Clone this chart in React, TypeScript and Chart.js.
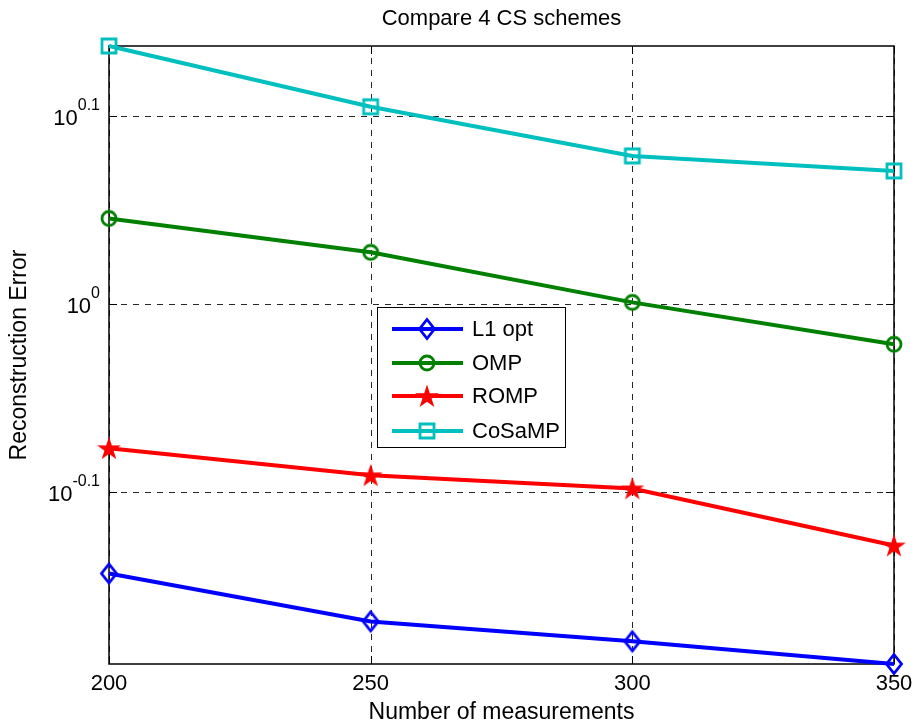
import React, { useEffect, useRef } from "react";
import { Chart, registerables } from "chart.js";

Chart.register(...registerables);

const measurements = [200, 250, 300, 350];
const l1Opt = [0.719, 0.678, 0.6616, 0.6435];
const omp = [1.111, 1.0658, 1.0024, 0.9522];
const romp = [0.8384, 0.811, 0.798, 0.7441];
const cosamp = [1.3725, 1.274, 1.1995, 1.1776];

const seriesNames = ["L1 opt", "OMP", "ROMP", "CoSaMP"];
const xTicks = [200, 250, 300, 350];
const yTickExponents = ["-0.1", "0", "0.1"];
const yTickValues = [Math.pow(10, -0.1), 1, Math.pow(10, 0.1)];

const FONT = 'Arial, "Liberation Sans", sans-serif';

type MarkerKind = "diamond" | "circle" | "star" | "square";

function makeMarker(kind: MarkerKind, color: string): HTMLCanvasElement {
  const c = document.createElement("canvas");
  c.width = 32;
  c.height = 32;
  const g = c.getContext("2d")!;
  const cx = 16;
  const cy = 16;
  g.strokeStyle = color;
  g.fillStyle = color;
  g.lineWidth = 2.8;
  g.lineJoin = "miter";
  g.beginPath();
  if (kind === "diamond") {
    g.moveTo(cx, cy - 9.5);
    g.lineTo(cx + 7.5, cy);
    g.lineTo(cx, cy + 9.5);
    g.lineTo(cx - 7.5, cy);
    g.closePath();
    g.stroke();
  } else if (kind === "circle") {
    g.arc(cx, cy, 7, 0, Math.PI * 2);
    g.stroke();
  } else if (kind === "square") {
    g.rect(cx - 7, cy - 7, 14, 14);
    g.stroke();
  } else {
    const R = 12.5;
    const r = R * 0.382;
    for (let i = 0; i < 10; i++) {
      const rad = i % 2 === 0 ? R : r;
      const a = -Math.PI / 2 + (i * Math.PI) / 5;
      const px = cx + rad * Math.cos(a);
      const py = cy + 1 + rad * Math.sin(a);
      if (i === 0) g.moveTo(px, py);
      else g.lineTo(px, py);
    }
    g.closePath();
    g.fill();
  }
  return c;
}

export default function App() {
  const canvasRef = useRef<HTMLCanvasElement | null>(null);

  useEffect(() => {
    const canvas = canvasRef.current;
    if (!canvas) return;

    const colors = ["#0000ff", "#008000", "#ff0000", "#00bfbf"];
    const kinds: MarkerKind[] = ["diamond", "circle", "star", "square"];
    const markers = kinds.map((k, i) => makeMarker(k, colors[i]));
    const values = [l1Opt, omp, romp, cosamp];

    const decorPlugin = {
      id: "matlabDecor",
      beforeDatasetsDraw(chart: any) {
        const { ctx, chartArea } = chart;
        const { left, right, top, bottom } = chartArea;
        const xs = chart.scales.x;
        const ys = chart.scales.y;
        ctx.save();
        ctx.fillStyle = "#ffffff";
        ctx.fillRect(left, top, right - left, bottom - top);
        ctx.strokeStyle = "#262626";
        ctx.lineWidth = 1;
        ctx.setLineDash([6, 6]);
        for (const v of xTicks) {
          const px = Math.round(xs.getPixelForValue(v)) + 0.5;
          ctx.beginPath();
          ctx.moveTo(px, top);
          ctx.lineTo(px, bottom);
          ctx.stroke();
        }
        for (const v of yTickValues) {
          const py = Math.round(ys.getPixelForValue(v)) + 0.5;
          ctx.beginPath();
          ctx.moveTo(left, py);
          ctx.lineTo(right, py);
          ctx.stroke();
        }
        ctx.setLineDash([]);
        ctx.strokeStyle = "#000000";
        ctx.lineWidth = 1.5;
        ctx.strokeRect(left, top, right - left, bottom - top);
        ctx.lineWidth = 1;
        for (const v of xTicks) {
          const px = Math.round(xs.getPixelForValue(v)) + 0.5;
          ctx.beginPath();
          ctx.moveTo(px, bottom);
          ctx.lineTo(px, bottom - 8);
          ctx.moveTo(px, top);
          ctx.lineTo(px, top + 8);
          ctx.stroke();
        }
        for (const v of yTickValues) {
          const py = Math.round(ys.getPixelForValue(v)) + 0.5;
          ctx.beginPath();
          ctx.moveTo(left, py);
          ctx.lineTo(left + 8, py);
          ctx.moveTo(right, py);
          ctx.lineTo(right - 8, py);
          ctx.stroke();
        }
        ctx.restore();
      },
      afterDraw(chart: any) {
        const { ctx, chartArea } = chart;
        const { left, right, top, bottom } = chartArea;
        const xs = chart.scales.x;
        const ys = chart.scales.y;
        ctx.save();
        ctx.fillStyle = "#000000";

        // title
        ctx.font = `22px ${FONT}`;
        ctx.textAlign = "center";
        ctx.textBaseline = "middle";
        ctx.fillText("Compare 4 CS schemes", (left + right) / 2, 19);

        // x tick labels
        ctx.font = `22px ${FONT}`;
        ctx.textBaseline = "middle";
        for (const v of xTicks) {
          ctx.fillText(String(v), xs.getPixelForValue(v), bottom + 20);
        }

        // y tick labels: 10^exp
        yTickValues.forEach((v, i) => {
          const py = ys.getPixelForValue(v);
          const exp = yTickExponents[i];
          ctx.font = `16px ${FONT}`;
          const ew = ctx.measureText(exp).width;
          ctx.font = `22px ${FONT}`;
          const bw = ctx.measureText("10").width;
          const xEnd = left - 9;
          ctx.textAlign = "left";
          ctx.textBaseline = "alphabetic";
          ctx.fillText("10", xEnd - ew - bw, py + 8.5);
          ctx.font = `16px ${FONT}`;
          ctx.fillText(exp, xEnd - ew, py - 6);
        });

        // axis titles
        ctx.font = `23px ${FONT}`;
        ctx.textAlign = "center";
        ctx.textBaseline = "middle";
        ctx.fillText("Number of measurements", (left + right) / 2, 713);
        ctx.save();
        ctx.translate(20, (top + bottom) / 2);
        ctx.rotate(-Math.PI / 2);
        ctx.fillText("Reconstruction Error", 0, 0);
        ctx.restore();

        // legend
        const bx = 377.5;
        const by = 307.5;
        const bw = 188;
        const bh = 140;
        ctx.fillStyle = "#ffffff";
        ctx.fillRect(bx, by, bw, bh);
        ctx.strokeStyle = "#000000";
        ctx.lineWidth = 1;
        ctx.strokeRect(bx, by, bw, bh);
        const rowY = [329, 363, 396, 431];
        seriesNames.forEach((name, i) => {
          const yy = rowY[i];
          ctx.strokeStyle = colors[i];
          ctx.lineWidth = 4;
          ctx.beginPath();
          ctx.moveTo(392, yy);
          ctx.lineTo(463, yy);
          ctx.stroke();
          const m = markers[i];
          ctx.drawImage(m, 427 - m.width / 2, yy - m.height / 2);
          ctx.fillStyle = "#000000";
          ctx.font = `22px ${FONT}`;
          ctx.textAlign = "left";
          ctx.textBaseline = "middle";
          ctx.fillText(name, 472, yy + 1);
        });
        ctx.restore();
      },
    };

    const chart = new Chart(canvas, {
      type: "line",
      data: {
        labels: measurements,
        datasets: seriesNames.map((name, i) => ({
          label: name,
          data: measurements.map((m, j) => ({ x: m, y: values[i][j] })),
          borderColor: colors[i],
          backgroundColor: colors[i],
          borderWidth: 4,
          pointStyle: markers[i] as any,
          pointRadius: 8,
          tension: 0,
          fill: false,
          clip: false as any,
        })),
      },
      options: {
        animation: false,
        responsive: false,
        devicePixelRatio: 1,
        layout: { padding: { left: 109, top: 46, right: 23, bottom: 61 } },
        plugins: {
          legend: { display: false },
          title: { display: false },
          tooltip: { enabled: false },
        },
        scales: {
          x: { type: "linear", min: 200, max: 350, display: false },
          y: { type: "logarithmic", min: 0.6435, max: 1.3725, display: false },
        },
      },
      plugins: [decorPlugin],
    });

    return () => chart.destroy();
  }, []);

  return (
    <div style={{ position: "fixed", left: 0, top: 0, width: 917, height: 725, background: "#fff" }}>
      <canvas ref={canvasRef} width={917} height={725} style={{ width: 917, height: 725, display: "block" }} />
    </div>
  );
}
